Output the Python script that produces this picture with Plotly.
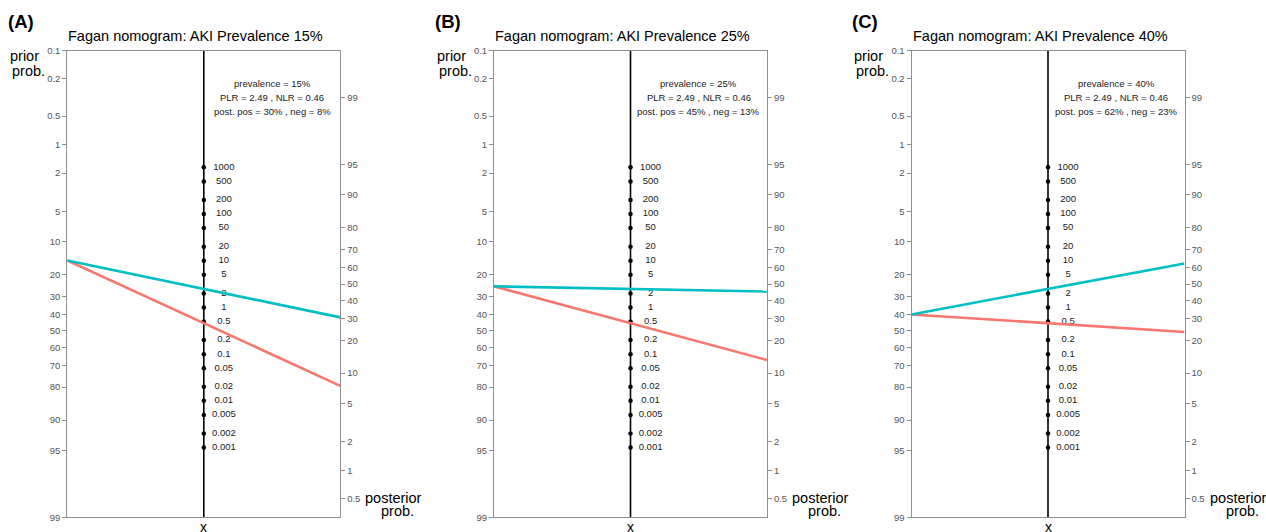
import numpy as np
import plotly.graph_objects as go

# ---------------- data ----------------
panel_letters = ["(A)", "(B)", "(C)"]
prevalence = [15, 25, 40]            # prior probability, %
plr = [2.49, 2.49, 2.49]             # positive likelihood ratio
nlr = [0.46, 0.46, 0.46]             # negative likelihood ratio
post_pos_label = [30, 45, 62]        # posterior prob. after positive test, %
post_neg_label = [8, 13, 23]         # posterior prob. after negative test, %
prior_ticks = [0.1, 0.2, 0.5, 1, 2, 5, 10, 20, 30, 40, 50, 60, 70, 80, 90, 95, 99]
post_ticks = [0.5, 1, 2, 5, 10, 20, 30, 40, 50, 60, 70, 80, 90, 95, 99]
lr_ticks = [1000, 500, 200, 100, 50, 20, 10, 5, 2, 1, 0.5, 0.2, 0.1,
            0.05, 0.02, 0.01, 0.005, 0.002, 0.001]

# ---------------- scales ----------------
def logit(p):
    p = np.asarray(p, dtype=float)
    return np.log(p / (1 - p))

lo, hi = prior_ticks[0] / 100, prior_ticks[-1] / 100
C = (logit(lo) + logit(hi)) / 2.0          # offset of the prior axis
H = float(-logit(lo) + C)                   # half range of the shared y scale

def u_prior(pct):
    return -logit(np.asarray(pct) / 100) + C

def u_post(pct):
    return logit(np.asarray(pct) / 100)

def u_lr(lr):
    return (np.log(np.asarray(lr, dtype=float)) + C) / 2.0

def posterior(prior_pct, lr):
    odds = (prior_pct / 100) / (1 - prior_pct / 100) * lr
    return 100 * odds / (1 + odds)

# ---------------- layout geometry (pixels) ----------------
W, Hpx = 1266, 532
panel_left = [67.3, 494.0, 911.5]
panel_w = 273.0
top_px, bot_px = 50.7, 517.3

def fx(px):
    return px / W

def fy(py):
    return (Hpx - py) / Hpx

FONT = "Liberation Sans, Arial, Helvetica, sans-serif"
AXIS_GREY = "#8f8f8f"
TICK_TXT = "#555555"
CYAN = "#00BFC4"
SALMON = "#F8766D"

fig = go.Figure()
layout = dict(
    width=W, height=Hpx, autosize=False,
    margin=dict(l=0, r=0, t=0, b=0, pad=0, autoexpand=False),
    paper_bgcolor="white", plot_bgcolor="white",
    showlegend=False,
    font=dict(family=FONT, color="black"),
)
annotations = []

for i in range(3):
    xname = "x" if i == 0 else f"x{i+1}"
    yl = f"y{2*i+1}" if i > 0 else "y"
    yr = f"y{2*i+2}"
    xkey = "xaxis" if i == 0 else f"xaxis{i+1}"
    ylkey = "yaxis" if i == 0 else f"yaxis{2*i+1}"
    yrkey = f"yaxis{2*i+2}"

    x0 = panel_left[i]
    x1 = x0 + panel_w
    layout[xkey] = dict(
        domain=[fx(x0), fx(x1)], range=[-1, 1], anchor=yl,
        showgrid=False, zeroline=False, showticklabels=False, ticks="",
        showline=True, mirror=True, linecolor=AXIS_GREY, linewidth=1,
        fixedrange=True, automargin=False,
    )
    layout[ylkey] = dict(
        domain=[fy(bot_px), fy(top_px)], range=[-H, H], anchor=xname,
        tickmode="array",
        tickvals=list(u_prior(prior_ticks)),
        ticktext=[f"{v:g}" for v in prior_ticks],
        ticks="outside", ticklen=4, tickwidth=1, tickcolor=AXIS_GREY,
        tickfont=dict(size=9.5, color=TICK_TXT, family=FONT),
        showgrid=False, zeroline=False,
        showline=True, mirror=True, linecolor=AXIS_GREY, linewidth=1,
        fixedrange=True, automargin=False,
    )
    layout[yrkey] = dict(
        domain=[fy(bot_px), fy(top_px)], range=[-H, H], anchor=xname,
        overlaying=yl, side="right",
        tickmode="array",
        tickvals=list(u_post(post_ticks)),
        ticktext=[f"{v:g}" for v in post_ticks],
        ticks="outside", ticklen=4, tickwidth=1, tickcolor=AXIS_GREY,
        tickfont=dict(size=9.5, color=TICK_TXT, family=FONT),
        showgrid=False, zeroline=False, showline=False,
        fixedrange=True, automargin=False,
    )

    # middle likelihood-ratio axis
    fig.add_trace(go.Scatter(
        x=[0, 0], y=[-H, H], mode="lines",
        line=dict(color="black", width=1.6),
        xaxis=xname, yaxis=yl, hoverinfo="skip"))
    fig.add_trace(go.Scatter(
        x=[0] * len(lr_ticks), y=u_lr(lr_ticks), mode="markers",
        marker=dict(color="black", size=4.5),
        xaxis=xname, yaxis=yl, hoverinfo="skip"))
    fig.add_trace(go.Scatter(
        x=[0.147] * len(lr_ticks), y=u_lr(lr_ticks), mode="text",
        text=[f"{v:g}" for v in lr_ticks], textposition="middle center",
        textfont=dict(size=9.5, color="#1a1a1a", family=FONT),
        xaxis=xname, yaxis=yl, hoverinfo="skip", cliponaxis=False))

    # Fagan lines: negative (salmon) then positive (cyan)
    prev = prevalence[i]
    for lr, col in ((nlr[i], SALMON), (plr[i], CYAN)):
        post = posterior(prev, lr)
        fig.add_trace(go.Scatter(
            x=[-1, 1], y=[float(u_prior(prev)), float(u_post(post))],
            mode="lines", line=dict(color=col, width=2.6),
            xaxis=xname, yaxis=yr, hoverinfo="skip"))

    # texts
    annotations.append(dict(
        text=f"<b>{panel_letters[i]}</b>", xref="paper", yref="paper",
        x=fx(x0 - 61.5), y=fy(22), xanchor="left", yanchor="middle",
        showarrow=False, font=dict(size=18.5, color="black", family=FONT)))
    annotations.append(dict(
        text=f"Fagan nomogram: AKI Prevalence {prev}%", xref="paper", yref="paper",
        x=fx(x0 - 1), y=fy(36), xanchor="left", yanchor="middle",
        showarrow=False, font=dict(size=14.5, color="black", family=FONT)))
    annotations.append(dict(
        text="prior", xref="paper", yref="paper",
        x=fx(x0 - 59.5), y=fy(56.5), xanchor="left", yanchor="middle",
        showarrow=False, font=dict(size=14.5, color="black", family=FONT)))
    annotations.append(dict(
        text="prob.", xref="paper", yref="paper",
        x=fx(x0 - 57.5), y=fy(70.5), xanchor="left", yanchor="middle",
        showarrow=False, font=dict(size=14.5, color="black", family=FONT)))
    annotations.append(dict(
        text="posterior", xref="paper", yref="paper",
        x=fx(x1 + 23), y=fy(497.5), xanchor="left", yanchor="middle",
        showarrow=False, font=dict(size=14.5, color="black", family=FONT)))
    annotations.append(dict(
        text="prob.", xref="paper", yref="paper",
        x=fx(x1 + 39), y=fy(511), xanchor="left", yanchor="middle",
        showarrow=False, font=dict(size=14.5, color="black", family=FONT)))
    annotations.append(dict(
        text="x", xref="paper", yref="paper",
        x=fx(x0 + panel_w / 2), y=fy(526.5), xanchor="center", yanchor="middle",
        showarrow=False, font=dict(size=14, color="black", family=FONT)))

    info_lines = [
        f"prevalence = {prev}%",
        f"PLR = {plr[i]:.2f} , NLR = {nlr[i]:.2f}",
        f"post. pos = {post_pos_label[i]}% , neg = {post_neg_label[i]}%",
    ]
    for line, py in zip(info_lines, (83.3, 97.3, 111.0)):
        annotations.append(dict(
            text=line, xref="paper", yref="paper",
            x=fx(x0 + panel_w * 0.75), y=fy(py), xanchor="center", yanchor="middle",
            showarrow=False, font=dict(size=9.5, color="#1a1a1a", family=FONT)))

layout["annotations"] = annotations
fig.update_layout(**layout)
fig.write_html(
    "out.html",
    config={"displayModeBar": False},
    post_script="document.body.style.margin='0';document.body.style.padding='0';"
                "document.documentElement.style.margin='0';"
                "document.body.style.overflow='hidden';",
)
